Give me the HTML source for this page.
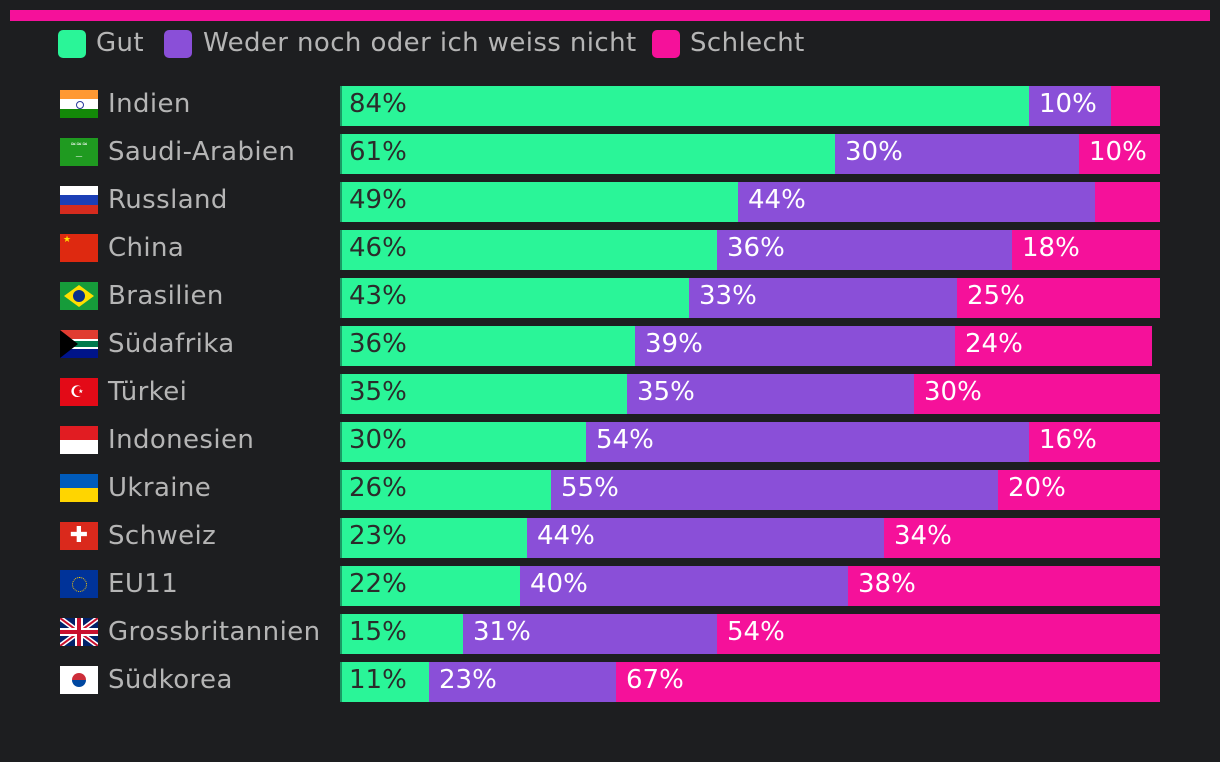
<!DOCTYPE html>
<html><head><meta charset="utf-8"><style>
body{margin:0;width:1220px;height:762px;background:#1d1e20;font-family:"DejaVu Sans","Liberation Sans",sans-serif;overflow:hidden;position:relative}
.abs{position:absolute}
.lg{position:absolute;top:29px;height:28px;font-size:26px;letter-spacing:0.4px;color:#b5b5b5;line-height:28px;white-space:nowrap}
.sw{position:absolute;top:30px;width:28px;height:28px;border-radius:5px}
.lab{position:absolute;left:108px;font-size:26px;letter-spacing:0.4px;color:#b5b5b5;line-height:37px;white-space:nowrap}
.flag{position:absolute;left:60px;width:38px;height:28px;overflow:hidden}
.seg{position:absolute;height:40px;font-size:26px;line-height:37px;box-sizing:border-box;padding-left:10px;white-space:nowrap;overflow:hidden}
</style></head><body>
<div class="abs" style="left:10px;top:10px;width:1200px;height:11px;background:#f5119a"></div>
<div class="sw" style="left:58px;background:#2af598"></div>
<div class="lg" style="left:96px">Gut</div>
<div class="sw" style="left:164px;background:#8a4fd8"></div>
<div class="lg" style="left:203px">Weder noch oder ich weiss nicht</div>
<div class="sw" style="left:652px;background:#f5119a"></div>
<div class="lg" style="left:690px">Schlecht</div>
<div id="chart"></div>
<script>
const countries=["Indien","Saudi-Arabien","Russland","China","Brasilien","Südafrika","Türkei","Indonesien","Ukraine","Schweiz","EU11","Grossbritannien","Südkorea"];
const gut=[84,61,49,46,43,36,35,30,26,23,22,15,11];
const weder=[10,30,44,36,33,39,35,54,55,44,40,31,23];
const schlecht=[6,10,8,18,25,24,30,16,20,34,38,54,67];
const showSchlecht=[false,true,false,true,true,true,true,true,true,true,true,true,true];
const flags=[
'<div style="height:33%;background:#ff9933"></div><div style="height:34%;background:#fff;position:relative"><div style="position:absolute;left:16px;top:2px;width:6px;height:6px;border:1px solid #2a3a9a;border-radius:50%"></div></div><div style="height:33%;background:#138808"></div>',
'<div style="height:100%;background:#1f9a20;color:#fff;font-size:7px;text-align:center;line-height:12px">≈≈≈<br>—</div>',
'<div style="height:33%;background:#fff"></div><div style="height:34%;background:#1c3fb6"></div><div style="height:33%;background:#d52b1e"></div>',
'<div style="height:100%;background:#de2910;color:#ffde00;font-size:9px;line-height:12px;padding-left:3px">★</div>',
'<div style="height:100%;background:#169c3a;position:relative"><div style="position:absolute;left:4px;top:3px;width:0;height:0;border-left:15px solid transparent;border-right:15px solid transparent;border-bottom:11px solid #fedf00"></div><div style="position:absolute;left:4px;top:14px;width:0;height:0;border-left:15px solid transparent;border-right:15px solid transparent;border-top:11px solid #fedf00"></div><div style="position:absolute;left:13px;top:8px;width:12px;height:12px;border-radius:50%;background:#0a2f8a"></div></div>',
'<div style="height:100%;background:linear-gradient(#e03c31 0 33%,#fff 33% 40%,#007a4d 40% 60%,#fff 60% 67%,#001489 67%);position:relative"><div style="position:absolute;left:0;top:0;border-top:14px solid transparent;border-bottom:14px solid transparent;border-left:18px solid #000"></div></div>',
'<div style="height:100%;background:#e30a17;color:#fff;font-size:16px;line-height:28px;padding-left:10px">☪</div>',
'<div style="height:50%;background:#e11c22"></div><div style="height:50%;background:#fff"></div>',
'<div style="height:50%;background:#005bbb"></div><div style="height:50%;background:#ffd500"></div>',
'<div style="height:100%;background:#da291c;color:#fff;font-size:22px;line-height:28px;text-align:center;font-weight:bold">✚</div>',
'<div style="height:100%;background:#003399;position:relative"><div style="position:absolute;left:12px;top:7px;width:13px;height:13px;border:1px dotted #ffcc00;border-radius:50%"></div></div>',
'<svg width="38" height="28" viewBox="0 0 38 28"><rect width="38" height="28" fill="#012169"/><path d="M0 0L38 28M38 0L0 28" stroke="#fff" stroke-width="5"/><path d="M0 0L38 28M38 0L0 28" stroke="#c8102e" stroke-width="2"/><path d="M19 0V28M0 14H38" stroke="#fff" stroke-width="8"/><path d="M19 0V28M0 14H38" stroke="#c8102e" stroke-width="4"/></svg>',
'<div style="height:100%;background:#fff;position:relative"><div style="position:absolute;left:12px;top:7px;width:14px;height:14px;border-radius:50%;background:linear-gradient(#cd2e3a 50%,#0047a0 50%)"></div></div>'
];
const chart=document.getElementById('chart');
const x0=340,x1=1160,width=820,y0=86,step=48;
function add(cls,name,style,html){const d=document.createElement('div');d.className=cls;


d.style.cssText=style;d.innerHTML=html;chart.appendChild(d);return d;}
countries.forEach((c,i)=>{
 const y=y0+i*step;
 const slug=c.toLowerCase().replace(/[^a-z0-9]+/g,'-');
 const total=Math.max(100,gut[i]+weder[i]+schlecht[i]);
 add('flag','flag-'+slug,'top:'+(y+4)+'px',flags[i]);
 add('lab','label-'+slug,'top:'+y+'px',c);
 let x=x0;
 const segs=[[gut[i],'#2af598','#2b2b2b','gut',true],[weder[i],'#8a4fd8','#fff','weder',true],[schlecht[i],'#f5119a','#fff','schlecht',showSchlecht[i]]];
 segs.forEach(([v,bg,fg,k,show])=>{
  let w=Math.round(v/total*width);if(x+w>x1)w=x1-x;
  const extra=k==='gut'?'border-left:2px solid #1a9a64;padding-left:7px;':'';
  add('seg','bar-'+k+'-'+slug,'left:'+x+'px;top:'+y+'px;width:'+w+'px;background:'+bg+';color:'+fg+';'+extra,show?v+'%':'');
  x+=w;
 });
});
</script>
</body></html>
